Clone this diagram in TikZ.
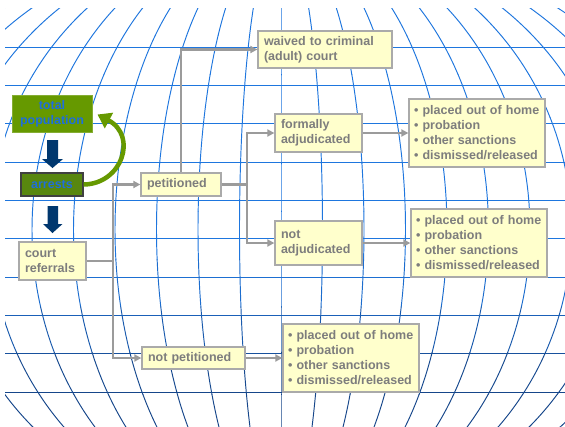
\documentclass[tikz,border=0pt]{standalone}
\usepackage{fontspec}
\setmainfont{Liberation Sans}
\usetikzlibrary{arrows.meta,calc}
\definecolor{gridhi}{RGB}{30,118,222}
\definecolor{gridlo}{RGB}{22,70,138}
\definecolor{boxfill}{RGB}{255,255,204}
\definecolor{boxline}{RGB}{170,170,170}
\definecolor{txtgray}{RGB}{125,125,125}
\definecolor{connc}{RGB}{155,155,155}
\definecolor{greena}{RGB}{102,153,0}
\definecolor{greenb}{RGB}{88,135,15}
\definecolor{navyc}{RGB}{0,55,110}
\definecolor{txtblue}{RGB}{30,110,220}
\tikzset{
  gridline/.style={line width=0.95pt, line cap=round},
  ybox/.style={draw=boxline, line width=1.3pt, fill=boxfill, text=txtgray,
    font=\bfseries\fontsize{12.5}{15}\selectfont, align=left, inner xsep=6pt, inner ysep=3pt},
  bbox/.style={ybox, inner xsep=5pt, minimum width=136pt, minimum height=68pt, text width=126pt},
  gbox/.style={font=\bfseries\fontsize{12.5}{15}\selectfont, text=txtblue, align=center, inner sep=2pt},
  conn/.style={draw=connc, line width=2.2pt},
  connarrow/.style={conn, -{Triangle[length=7pt,width=7pt]}},
  blockarrow/.style={fill=navyc}
}
\begin{document}
\begin{tikzpicture}[x=1pt,y=-1pt]
\useasboundingbox (0,0) rectangle (565,426);
\fill[white] (0,0) rectangle (565,426);
% background grid
\begin{scope}
\clip (5,8) rectangle (565,426);
\foreach \k in {-10,...,10}{
  \foreach \s in {0,...,9}{
    \pgfmathsetmacro{\ta}{-50+\s*9.3}
    \pgfmathsetmacro{\tb}{\ta+9.3}
    \pgfmathsetmacro{\ym}{229.5+297.3*sin((\ta+\tb)/2)}
    \pgfmathtruncatemacro{\p}{min(100,max(0,(\ym-260)/1.2))}
    \draw[gridline, color=gridlo!\p!gridhi] plot[domain=\ta:\tb, samples=6, smooth] ({281+41.5*\k*cos(\x)},{229.5+297.3*sin(\x)});
  }
}
\foreach \yy in {47,85,123,162,200,238,277,315,353,392}{
  \pgfmathtruncatemacro{\p}{min(100,max(0,(\yy-260)/1.2))}
  \draw[gridline, color=gridlo!\p!gridhi] (5,\yy) -- (565,\yy);
}
\end{scope}
% nodes
\node[ybox, minimum width=134pt, minimum height=37pt, text width=122pt] (waived) at (325,49.5) {waived to criminal\\(adult) court};
\node[ybox, minimum width=87pt, minimum height=38pt, text width=75pt] (formal) at (318.5,133) {formally\\adjudicated};
\node[ybox, minimum width=87pt, minimum height=44pt, text width=75pt] (notadj) at (318.5,243) {not\\adjudicated};
\node[bbox] (rbone) at (477,133) {• placed out of home\\• probation\\• other sanctions\\• dismissed/released};
\node[bbox] (rbtwo) at (479,243) {• placed out of home\\• probation\\• other sanctions\\• dismissed/released};
\node[bbox] (rbthree) at (351,358) {• placed out of home\\• probation\\• other sanctions\\• dismissed/released};
\node[ybox, minimum width=80pt, minimum height=23pt, text width=68pt] (pet) at (181,184.5) {petitioned};
\node[ybox, minimum width=103pt, minimum height=22pt, text width=91pt] (notpet) at (193.5,358) {not petitioned};
\node[ybox, minimum width=67pt, minimum height=38pt, text width=55pt] (cr) at (52.5,261) {court\\referrals};
\node[gbox, fill=greena, draw=greena!80!white, line width=1pt, minimum width=80pt, minimum height=37pt] (tp) at (52,113.5) {total\\population};
\node[gbox, fill=greenb, draw=black!75, line width=1.3pt, minimum width=62pt, minimum height=23pt] (arr) at (52,184.5) {arrests};
% block arrows
\fill[blockarrow] (47,140) -- (58,140) -- (58,159) -- (63,159) -- (52.5,168) -- (42,159) -- (47,159) -- cycle;
\fill[blockarrow] (47.5,206) -- (58,206) -- (58,224) -- (62.5,224) -- (52.5,233) -- (43,224) -- (47.5,224) -- cycle;
% green curved arrow
\coordinate (gend) at ($(tp.east)+(5,1)$);
\draw[greena, line width=4.5pt, -{Triangle[length=13pt,width=17pt]}] (arr.east) .. controls (122,184) and (138,136) .. (gend);
% connectors
\coordinate (jone) at (113,261);
\coordinate (jtwo) at (247,184.5);
\draw[conn] (cr.east) -- (jone);
\draw[connarrow] (jone) |- (pet.west);
\draw[connarrow] (jone) |- (notpet.west);
\draw[conn] (pet.east) -- (jtwo);
\draw[connarrow] (jtwo) |- (formal.west);
\draw[connarrow] (jtwo) |- (notadj.west);
\draw[connarrow] (pet.north) |- (waived.west);
\draw[connarrow] (formal.east) -- (rbone.west);
\draw[connarrow] (notadj.east) -- (rbtwo.west);
\draw[connarrow] (notpet.east) -- (rbthree.west);
\end{tikzpicture}
\end{document}
